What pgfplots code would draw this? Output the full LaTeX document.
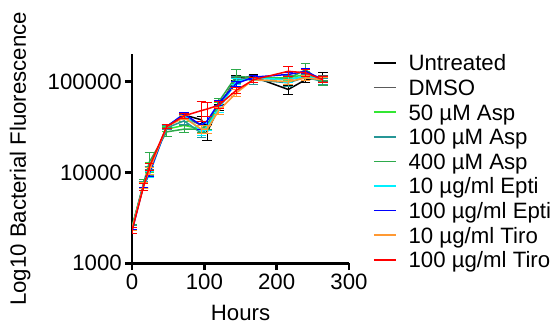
\documentclass[border=0pt]{standalone}
\usepackage{fontspec}
\setmainfont{Liberation Sans}
\usepackage{pgfplots}
\pgfplotsset{compat=1.18}
\definecolor{cUnt}{RGB}{0,0,0}
\definecolor{cDMSO}{RGB}{90,90,90}
\definecolor{cAspA}{RGB}{51,230,51}
\definecolor{cAspB}{RGB}{38,150,150}
\definecolor{cAspC}{RGB}{45,170,75}
\definecolor{cEptA}{RGB}{0,240,255}
\definecolor{cEptB}{RGB}{0,0,255}
\definecolor{cTirA}{RGB}{255,153,51}
\definecolor{cTirB}{RGB}{255,0,0}
\newcommand{\bigfont}{\fontsize{22.3}{26}\selectfont}
\begin{document}
\begin{tikzpicture}
\useasboundingbox (0,0) rectangle (555bp,325bp);
\begin{axis}[
  at={(132bp,61.7bp)}, anchor=south west,
  scale only axis, width=217bp, height=209bp,
  xmin=0, xmax=300, ymode=log, ymin=1000, ymax=200000,
  axis x line=bottom, axis y line=left,
  axis line style={-, line width=2.6bp},
  tick align=outside, major tick length=7bp,
  tick style={line width=2.6bp, black},
  minor tick num=0, log basis y=10,
  xtick={0,100,200,300}, xticklabels={0,100,200,300},
  ytick={1000,10000,100000}, yticklabels={1000,10000,100000},
  yminorticks=false,
  tick label style={font=\bigfont},
  xticklabel style={inner sep=0pt, yshift=-4bp},
  yticklabel style={inner sep=0pt, xshift=-3bp},
  xlabel={Hours}, ylabel={Log10 Bacterial Fluorescence},
  xlabel style={at={(axis description cs:0.5,-0.272)}, anchor=base, font=\bigfont, inner sep=0pt},
  ylabel style={at={(axis description cs:-0.4885,0.5)}, anchor=base, font=\bigfont, inner sep=0pt},
  legend style={at={(axis description cs:1.1106,1.017)}, anchor=north west, draw=none, fill=none,
    inner sep=0pt, outer sep=0pt, row sep=0pt, column sep=12bp, font=\bigfont,
    nodes={inner sep=0pt, text height=20.2bp, text depth=4.4bp}},
  legend cell align=left,
  every axis plot/.append style={line width=1.5bp, mark=none,
    error bars/y dir=both, error bars/y explicit,
    error bars/error bar style={line width=1bp},
    error bars/error mark options={rotate=90, mark size=4.8bp, line width=1bp}},
]
\addlegendimage{legend image code/.code={\draw[cUnt, line width=1.6bp] (0bp,0bp) -- (22bp,0bp);}}
\addlegendentry{Untreated}
\addlegendimage{legend image code/.code={\draw[cDMSO, line width=1.6bp] (0bp,0bp) -- (22bp,0bp);}}
\addlegendentry{DMSO}
\addlegendimage{legend image code/.code={\draw[cAspA, line width=1.6bp] (0bp,0bp) -- (22bp,0bp);}}
\addlegendentry{50 µM Asp}
\addlegendimage{legend image code/.code={\draw[cAspB, line width=1.6bp] (0bp,0bp) -- (22bp,0bp);}}
\addlegendentry{100 µM Asp}
\addlegendimage{legend image code/.code={\draw[cAspC, line width=1.6bp] (0bp,0bp) -- (22bp,0bp);}}
\addlegendentry{400 µM Asp}
\addlegendimage{legend image code/.code={\draw[cEptA, line width=1.6bp] (0bp,0bp) -- (22bp,0bp);}}
\addlegendentry{10 µg/ml Epti}
\addlegendimage{legend image code/.code={\draw[cEptB, line width=1.6bp] (0bp,0bp) -- (22bp,0bp);}}
\addlegendentry{100 µg/ml Epti}
\addlegendimage{legend image code/.code={\draw[cTirA, line width=1.6bp] (0bp,0bp) -- (22bp,0bp);}}
\addlegendentry{10 µg/ml Tiro}
\addlegendimage{legend image code/.code={\draw[cTirB, line width=1.6bp] (0bp,0bp) -- (22bp,0bp);}}
\addlegendentry{100 µg/ml Tiro}
\addplot[cUnt, forget plot] table[x=t,y=v,y error=e] {
t v e
0 2400 100
16 7300 600
24 10500 1000
48 32000 1500
72 43000 2500
96 38000 3000
104 28000 5500
120 52000 4000
144 110000 8000
168 113000 6000
216 82000 9000
240 105000 8000
264 112000 15000
};
\addplot[cDMSO, forget plot] table[x=t,y=v,y error=e] {
t v e
0 2400 100
16 7400 500
24 10000 900
48 32000 1500
72 41000 2500
96 33000 3000
104 32000 3000
120 55000 4000
144 105000 7000
168 110000 6000
216 105000 8000
240 115000 8000
264 108000 8000
};
\addplot[cAspA, forget plot] table[x=t,y=v,y error=e] {
t v e
0 2500 150
16 7200 600
24 11500 1500
48 30000 2000
72 33000 3000
96 30000 2500
104 33000 3000
120 55000 4000
144 100000 8000
168 110000 7000
216 110000 8000
240 120000 10000
264 100000 8000
};
\addplot[cAspB, forget plot] table[x=t,y=v,y error=e] {
t v e
0 2450 150
16 7400 500
24 10500 1200
48 31000 1500
72 37000 3000
96 27000 2500
104 30000 3000
120 50000 4000
144 105000 8000
168 105000 12000
216 97000 8000
240 112000 8000
264 100000 8000
};
\addplot[cAspC, forget plot] table[x=t,y=v,y error=e] {
t v e
0 2500 150
16 7600 700
24 13000 3500
48 28000 3000
72 30000 2500
96 30000 2500
104 33000 3000
120 60000 6000
144 115000 20000
168 110000 8000
216 108000 8000
240 135000 25000
264 97000 6000
};
\addplot[cEptA, forget plot] table[x=t,y=v,y error=e] {
t v e
0 2400 100
16 7200 500
24 9500 800
48 32000 1500
72 44000 2000
96 28000 2500
104 32000 3000
120 50000 4000
144 100000 8000
168 110000 6000
216 105000 8000
240 115000 8000
264 105000 6000
};
\addplot[cEptB, forget plot] table[x=t,y=v,y error=e] {
t v e
0 2250 100
16 7300 500
24 9800 800
48 32000 1500
72 44000 2000
96 33000 3000
104 37000 4000
120 58000 4000
144 95000 6000
168 112000 6000
216 120000 7000
240 130000 8000
264 105000 7000
};
\addplot[cTirA, forget plot] table[x=t,y=v,y error=e] {
t v e
0 2400 100
16 7200 500
24 10500 900
48 32000 1500
72 40000 2000
96 30000 3000
104 30000 3000
120 48000 4000
144 75000 6000
168 105000 6000
216 100000 6000
240 110000 8000
264 105000 6000
};
\addplot[cTirB, forget plot] table[x=t,y=v,y error=e] {
t v e
0 2300 150
16 7000 600
24 11500 1000
48 32000 1500
72 42000 2500
96 48000 12000
104 50000 9000
120 55000 5000
144 80000 6000
168 105000 7000
216 130000 15000
240 125000 10000
264 105000 8000
};
\end{axis}
\end{tikzpicture}
\end{document}
